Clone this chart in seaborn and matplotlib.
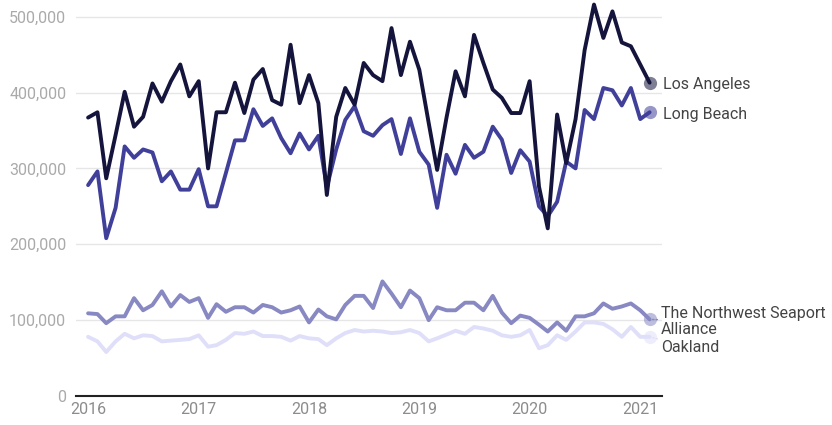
import matplotlib
matplotlib.use("Agg")
import matplotlib.pyplot as plt
import matplotlib.dates as mdates
import matplotlib.ticker as mticker
import numpy as np
import pandas as pd
import seaborn as sns

months = pd.date_range("2016-01-01", periods=62, freq="MS")

los_angeles = [367, 374, 287, 344, 401, 355, 368, 412, 388, 415, 437, 395,
               415, 300, 374, 374, 413, 373, 417, 431, 390, 384, 463, 386,
               423, 386, 265, 368, 406, 384, 439, 423, 415, 485, 423, 467,
               430, 360, 298, 367, 428, 395, 476, 439, 404, 393, 373, 373,
               415, 276, 221, 371, 307, 365, 456, 516, 472, 507, 466, 461,
               437, 413]
long_beach = [278, 296, 208, 248, 329, 314, 325, 321, 283, 296, 272, 272,
              299, 250, 250, 294, 337, 337, 378, 356, 366, 340, 320, 346,
              325, 343, 275, 325, 364, 382, 349, 343, 357, 365, 319, 366,
              322, 305, 248, 318, 293, 331, 314, 322, 355, 338, 294, 324,
              309, 250, 237, 256, 309, 300, 377, 365, 406, 403, 383, 406,
              365, 374]
northwest = [109, 108, 96, 105, 105, 129, 113, 120, 138, 118, 133, 124,
             129, 103, 121, 111, 117, 117, 110, 120, 117, 110, 113, 118,
             97, 114, 105, 101, 120, 132, 132, 116, 151, 135, 117, 139,
             129, 100, 117, 113, 113, 123, 123, 113, 132, 110, 96, 106,
             103, 94, 85, 97, 86, 105, 105, 109, 122, 115, 118, 122,
             113, 101]
oakland = [78, 72, 58, 72, 82, 76, 80, 79, 72, 73, 74, 75,
           80, 65, 67, 74, 83, 82, 85, 79, 79, 78, 73, 79,
           76, 75, 67, 76, 83, 87, 85, 86, 85, 83, 84, 87,
           83, 72, 76, 81, 86, 82, 91, 89, 86, 80, 78, 80,
           87, 63, 67, 80, 74, 85, 97, 97, 95, 88, 78, 91,
           78, 78]

ports = ["Los Angeles", "Long Beach", "The Northwest Seaport Alliance", "Oakland"]
label_texts = ["Los Angeles", "Long Beach", "The Northwest Seaport\nAlliance", "Oakland"]
colors = ["#14143c", "#40409a", "#8888c2", "#dfdffa"]
series = [los_angeles, long_beach, northwest, oakland]

frames = []
for name, vals in zip(ports, series):
    frames.append(pd.DataFrame({"month": months, "port": name,
                                "teu": np.array(vals) * 1000}))
df = pd.concat(frames, ignore_index=True)

sns.set_theme(style="white")
plt.rcParams["font.family"] = ["Roboto", "DejaVu Sans"]

fig = plt.figure(figsize=(8.32, 4.25), dpi=100)
ax = fig.add_axes([76 / 832, 29 / 425, (662 - 76) / 832, 396 / 425])

order = ports[::-1]
palette = dict(zip(ports, colors))
for name in order:
    sub = df[df["port"] == name]
    sns.lineplot(data=sub, x="month", y="teu", color=palette[name],
                 linewidth=2.8, ax=ax, legend=False, zorder=3)

offsets = {
    "Los Angeles": (10, -1.6, False),
    "Long Beach": (10, -1.6, False),
    "The Northwest Seaport Alliance": (8, -1.6, True),
    "Oakland": (8, -7.8, True),
}
for name, txt in zip(ports, label_texts):
    sub = df[df["port"] == name]
    x_last = sub["month"].iloc[-1]
    y_last = sub["teu"].iloc[-1]
    ax.plot([x_last], [y_last], "o", color=palette[name], alpha=0.55,
            markersize=9.5, markeredgewidth=0, zorder=4, clip_on=False)
    dx, dy, conn = offsets[name]
    arrow = dict(arrowstyle="-", linestyle=(0, (1, 1.5)), color=palette[name],
                 lw=1, shrinkA=0, shrinkB=1) if conn else None
    ax.annotate(txt, xy=(x_last, y_last), xytext=(dx, dy),
                textcoords="offset points", ha="left", va="center",
                fontsize=11.5, color="#444444", linespacing=1.1,
                arrowprops=arrow, annotation_clip=False)

ax.set_ylim(0, 522000)
ax.set_xlim(pd.Timestamp("2015-11-22"), pd.Timestamp("2021-03-14"))
ax.set_yticks([0, 100000, 200000, 300000, 400000, 500000])
ax.yaxis.set_major_formatter(mticker.FuncFormatter(lambda v, p: f"{int(v):,}"))
ax.xaxis.set_major_locator(mdates.YearLocator())
ax.xaxis.set_major_formatter(mdates.DateFormatter("%Y"))

ax.grid(axis="y", color="#e6e6e6", linewidth=1)
ax.grid(axis="x", visible=False)
ax.set_axisbelow(True)
for s in ["top", "right", "left"]:
    ax.spines[s].set_visible(False)
ax.spines["bottom"].set_color("#222222")
ax.spines["bottom"].set_linewidth(1.5)
ax.tick_params(axis="both", length=0, labelsize=11.5)
ax.tick_params(axis="y", pad=7, colors="#aaaaaa")
ax.tick_params(axis="x", pad=4, colors="#8c8c8c")
ax.set_xlabel("")
ax.set_ylabel("")

fig.savefig("out.png", dpi=100)
